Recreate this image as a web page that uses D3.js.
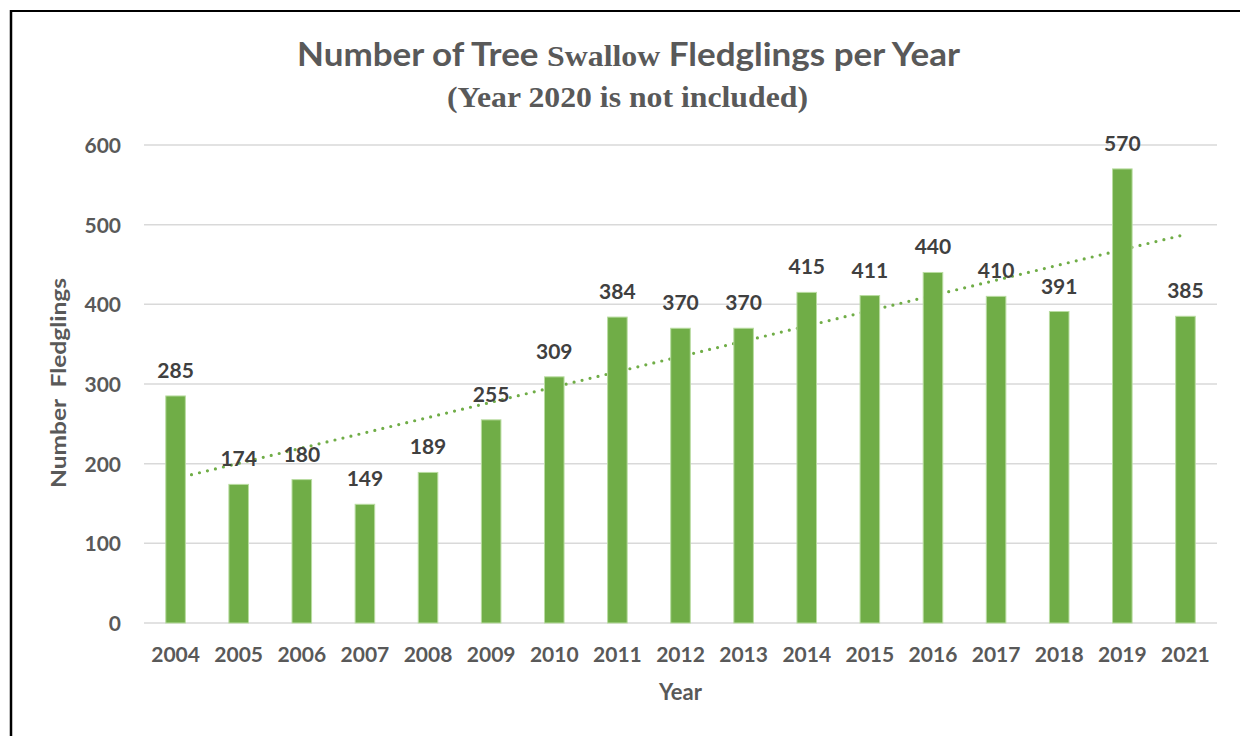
<!DOCTYPE html>
<html>
<head>
<meta charset="utf-8">
<script src="https://cdn.jsdelivr.net/npm/d3@7"></script>
<style>
  html, body { margin: 0; padding: 0; background: #fff; }
  svg { display: block; }
</style>
</head>
<body>
<svg id="chart" width="1240" height="736"></svg>
<script>
// Tree swallow fledgling counts per year (2020 absent)
const years = ["2004","2005","2006","2007","2008","2009","2010","2011","2012","2013","2014","2015","2016","2017","2018","2019","2021"];
const fledglings = [285,174,180,149,189,255,309,384,370,370,415,411,440,410,391,570,385];
const yTicks = [0,100,200,300,400,500,600];

const svg = d3.select("#chart");
const W = 1240, H = 736;
const plot = { left: 144, right: 1217, top: 145, bottom: 623 };

const sans = "Lato, 'Open Sans', sans-serif";
const serif = "'Liberation Serif', 'DejaVu Serif', serif";
const textGrey = "#595959";
const labelDark = "#404040";
const barGreen = "#70ad47";

svg.append("rect").attr("width", W).attr("height", H).attr("fill", "#fff");

// frame edges
svg.append("line").attr("x1", 11).attr("x2", 11).attr("y1", 10).attr("y2", H)
  .attr("stroke", "#000").attr("stroke-width", 2.5);
svg.append("line").attr("x1", 10).attr("x2", W).attr("y1", 11).attr("y2", 11)
  .attr("stroke", "#000").attr("stroke-width", 2);

const x = d3.scaleBand().domain(years).range([plot.left, plot.right])
  .paddingInner(0.69).paddingOuter(0.345);
const y = d3.scaleLinear().domain([0, 600]).range([plot.bottom, plot.top]);

// gridlines
svg.append("g").selectAll("line").data(yTicks).join("line")
  .attr("x1", plot.left).attr("x2", plot.right)
  .attr("y1", d => y(d)).attr("y2", d => y(d))
  .attr("stroke", "#d9d9d9").attr("stroke-width", 1.5);

// y axis labels
const yAxis = d3.axisLeft(y).tickValues(yTicks).tickSize(0).tickPadding(0);
const gy = svg.append("g").attr("transform", `translate(${plot.left - 23},0)`).call(yAxis);
gy.select(".domain").remove();
gy.selectAll("text").attr("font-family", sans).attr("font-weight", 700)
  .attr("font-size", 21).attr("fill", textGrey).attr("dy", "0.36em");

// x axis labels
const xAxis = d3.axisBottom(x).tickSize(0).tickPadding(0);
const gx = svg.append("g").attr("transform", `translate(0,${plot.bottom + 23})`).call(xAxis);
gx.select(".domain").remove();
gx.selectAll("text").attr("font-family", sans).attr("font-weight", 700)
  .attr("font-size", 21).attr("fill", textGrey).attr("dy", "0.75em");

// linear trendline (least squares over category index)
const n = fledglings.length;
const mx = d3.mean(d3.range(n));
const my = d3.mean(fledglings);
const sxy = d3.sum(fledglings, (v, i) => (i - mx) * (v - my));
const sxx = d3.sum(d3.range(n), i => (i - mx) * (i - mx));
const slope = sxy / sxx, intercept = my - slope * mx;
const trend = [0, n - 1].map(i => [x(years[i]) + x.bandwidth() / 2, y(intercept + slope * i)]);
svg.append("path").attr("d", d3.line()(trend))
  .attr("fill", "none").attr("stroke", barGreen).attr("stroke-width", 3.2)
  .attr("stroke-linecap", "round").attr("stroke-dasharray", "0 8.2");

// bars
svg.append("g").selectAll("rect").data(fledglings).join("rect")
  .attr("x", (d, i) => x(years[i]))
  .attr("width", x.bandwidth())
  .attr("y", d => y(d))
  .attr("height", d => y(0) - y(d))
  .attr("fill", barGreen)
  .attr("stroke", "#b9dca1").attr("stroke-width", 1);

// value labels
svg.append("g").selectAll("text").data(fledglings).join("text")
  .attr("x", (d, i) => x(years[i]) + x.bandwidth() / 2)
  .attr("y", d => y(d) - 18)
  .attr("text-anchor", "middle")
  .attr("font-family", sans).attr("font-weight", 700).attr("font-size", 21)
  .attr("fill", labelDark)
  .text(d => d);

// title
const title = svg.append("text").attr("x", 628.5).attr("y", 66)
  .attr("text-anchor", "middle").attr("fill", textGrey).attr("font-weight", 700)
  .attr("textLength", 663).attr("lengthAdjust", "spacingAndGlyphs");
title.append("tspan").attr("font-family", sans).attr("font-size", 33).text("Number of Tree ");
title.append("tspan").attr("font-family", serif).attr("font-size", 30).text("Swallow");
title.append("tspan").attr("font-family", sans).attr("font-size", 33).text(" Fledglings per Year");

svg.append("text").attr("x", 627.5).attr("y", 107)
  .attr("text-anchor", "middle").attr("fill", textGrey)
  .attr("font-family", serif).attr("font-weight", 700).attr("font-size", 29)
  .attr("textLength", 361).attr("lengthAdjust", "spacingAndGlyphs")
  .text("(Year 2020 is not included)");

// axis titles
svg.append("text")
  .attr("transform", `translate(66,383) rotate(-90)`)
  .attr("text-anchor", "middle").attr("fill", textGrey)
  .attr("font-family", sans).attr("font-weight", 700).attr("font-size", 21)
  .attr("xml:space", "preserve")
  .attr("textLength", 210).attr("lengthAdjust", "spacingAndGlyphs")
  .text("Number  Fledglings");

svg.append("text").attr("x", (plot.left + plot.right) / 2).attr("y", 700)
  .attr("text-anchor", "middle").attr("fill", textGrey)
  .attr("font-family", sans).attr("font-weight", 700).attr("font-size", 22)
  .text("Year");
</script>
</body>
</html>
